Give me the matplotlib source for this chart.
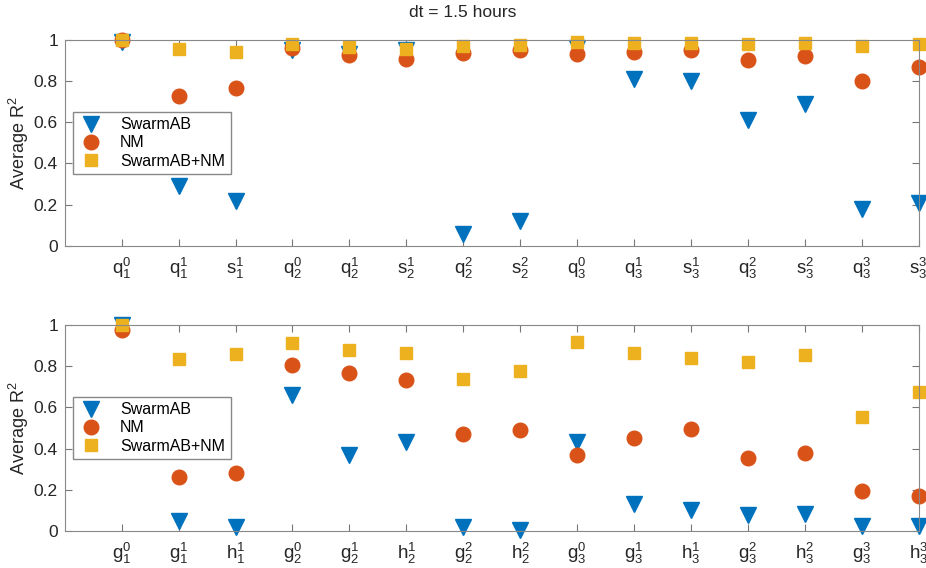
import numpy as np
import matplotlib
matplotlib.use("Agg")
import matplotlib.pyplot as plt

plt.rcParams['font.family'] = ['Liberation Sans', 'DejaVu Sans']
plt.rcParams['mathtext.fontset'] = 'custom'
plt.rcParams['mathtext.rm'] = 'Liberation Sans'
plt.rcParams['mathtext.it'] = 'Liberation Sans'

# data
top_labels = [r'$\mathregular{q_1^0}$', r'$\mathregular{q_1^1}$', r'$\mathregular{s_1^1}$',
              r'$\mathregular{q_2^0}$', r'$\mathregular{q_2^1}$', r'$\mathregular{s_2^1}$',
              r'$\mathregular{q_2^2}$', r'$\mathregular{s_2^2}$', r'$\mathregular{q_3^0}$',
              r'$\mathregular{q_3^1}$', r'$\mathregular{s_3^1}$', r'$\mathregular{q_3^2}$',
              r'$\mathregular{s_3^2}$', r'$\mathregular{q_3^3}$', r'$\mathregular{s_3^3}$']
bot_labels = [r'$\mathregular{g_1^0}$', r'$\mathregular{g_1^1}$', r'$\mathregular{h_1^1}$',
              r'$\mathregular{g_2^0}$', r'$\mathregular{g_2^1}$', r'$\mathregular{h_2^1}$',
              r'$\mathregular{g_2^2}$', r'$\mathregular{h_2^2}$', r'$\mathregular{g_3^0}$',
              r'$\mathregular{g_3^1}$', r'$\mathregular{h_3^1}$', r'$\mathregular{g_3^2}$',
              r'$\mathregular{h_3^2}$', r'$\mathregular{g_3^3}$', r'$\mathregular{h_3^3}$']

top_swarm = [0.99, 0.29, 0.22, 0.95, 0.93, 0.95, 0.06, 0.12, 0.96, 0.81, 0.80, 0.61, 0.69, 0.18, 0.21]
top_nm = [1.0, 0.725, 0.765, 0.96, 0.925, 0.905, 0.935, 0.95, 0.93, 0.94, 0.95, 0.90, 0.92, 0.80, 0.87]
top_both = [1.0, 0.955, 0.94, 0.98, 0.965, 0.955, 0.97, 0.975, 0.99, 0.985, 0.985, 0.98, 0.985, 0.97, 0.98]

bot_swarm = [1.0, 0.05, 0.02, 0.66, 0.37, 0.43, 0.02, 0.005, 0.43, 0.13, 0.10, 0.08, 0.085, 0.025, 0.025]
bot_nm = [0.975, 0.26, 0.28, 0.805, 0.765, 0.735, 0.47, 0.49, 0.37, 0.45, 0.495, 0.355, 0.38, 0.195, 0.17]
bot_both = [1.0, 0.835, 0.86, 0.91, 0.88, 0.865, 0.74, 0.775, 0.915, 0.865, 0.84, 0.82, 0.855, 0.555, 0.675]

names = ['SwarmAB', 'NM', 'SwarmAB+NM']

fig = plt.figure(figsize=(9.26, 5.68), dpi=100)
ax1 = fig.add_axes([0.070, 0.567, 0.922, 0.363])
ax2 = fig.add_axes([0.070, 0.065, 0.922, 0.363])


def panel(ax, labels, sw, nm, both):
    x = np.arange(1, len(labels) + 1)
    ax.plot(x, sw, 'v', color='#0072BD', ms=11, mec='#0072BD', clip_on=False, label=names[0])
    ax.plot(x, nm, 'o', color='#D95319', ms=10.5, clip_on=False, label=names[1])
    ax.plot(x, both, 's', color='#EDB120', ms=8, clip_on=False, label=names[2])
    ax.set_xlim(0, 15)
    ax.set_ylim(0, 1)
    ax.set_xticks(x)
    ax.set_xticklabels(labels, fontsize=13.5)
    ax.set_yticks([0, 0.2, 0.4, 0.6, 0.8, 1])
    ax.set_yticklabels(['0', '0.2', '0.4', '0.6', '0.8', '1'], fontsize=12.5)
    ax.tick_params(direction='in', top=True, right=True, length=5, color='#777777',
                   labelcolor='#262626', pad=5)
    ax.tick_params(axis='x', pad=7)
    for s in ax.spines.values():
        s.set_color('#888888')
    ax.set_ylabel(r'Average R$\mathregular{^2}$', fontsize=13, color='#262626')
    ax.yaxis.set_label_coords(-0.040, 0.5)
    leg = ax.legend(loc='center left', bbox_to_anchor=(0.0, 0.5), fontsize=11.5,
                    fancybox=False, edgecolor='#888888', framealpha=1,
                    handletextpad=1.0, borderpad=0.35, labelspacing=0.2, handlelength=1.6)
    leg.get_frame().set_linewidth(1.0)


panel(ax1, top_labels, top_swarm, top_nm, top_both)
panel(ax2, bot_labels, bot_swarm, bot_nm, bot_both)

fig.text(0.5, 0.978, 'dt = 1.5 hours', ha='center', va='center', fontsize=12.5, color='#262626')

fig.savefig('out.png', dpi=100)
